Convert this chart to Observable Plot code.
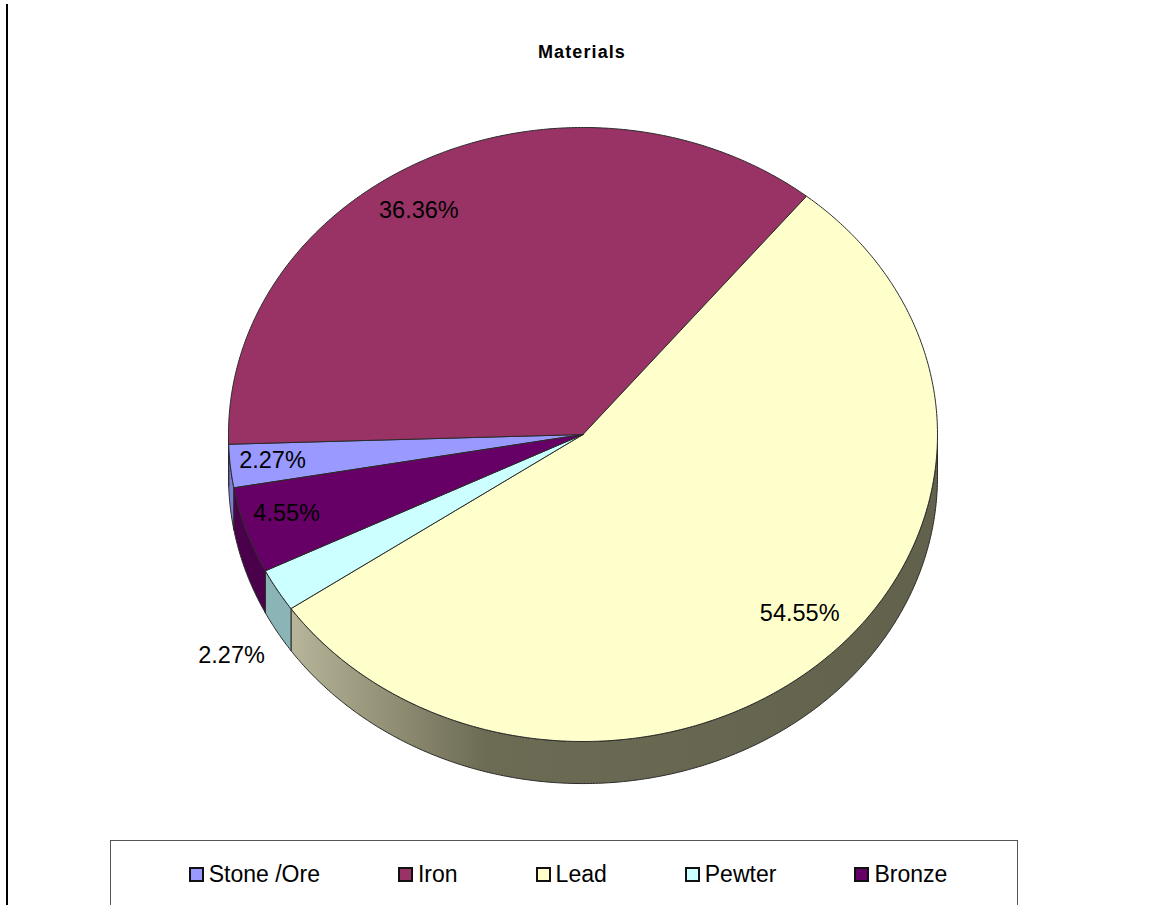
<!DOCTYPE html>
<html>
<head>
<meta charset="utf-8">
<script src="https://cdn.jsdelivr.net/npm/d3@7"></script>
<script src="https://cdn.jsdelivr.net/npm/@observablehq/plot@0.6"></script>
<style>
  html, body { margin: 0; padding: 0; background: #fff; }
  #wrap { position: relative; width: 1156px; height: 905px; overflow: hidden; font-family: "Liberation Sans", Arial, sans-serif; }
  #wrap svg { position: absolute; left: 0; top: 0; }
  #vline { position: absolute; left: 6px; top: 4px; width: 2px; height: 905px; background: #000; }
  #title { position: absolute; left: 0; top: 42px; width: 1164px; text-align: center; font-weight: bold; font-size: 18px; letter-spacing: 1.1px; color: #000; }
  #legend { position: absolute; left: 110px; top: 840px; width: 908px; height: 90px; border: 1.5px solid #555; border-bottom: none; box-sizing: border-box; display: flex; justify-content: center; gap: 78px; padding-top: 20px; padding-left: 8px; }
  .item { display: flex; align-items: center; font-size: 23px; height: 26px; color: #000; }
  .sw { width: 11px; height: 11px; border: 2px solid #111; margin-right: 5px; }
</style>
</head>
<body>
<div id="wrap">
  <div id="vline"></div>
  <div id="title">Materials</div>
  <div id="legend"></div>
</div>
<script>
// ---- data ----
const categories = ["Stone /Ore", "Iron", "Lead", "Pewter", "Bronze"];
const counts = [1, 16, 24, 1, 2];
const percentLabels = ["2.27%", "36.36%", "54.55%", "2.27%", "4.55%"];
// ---- styles / label layout ----
const topColors = ["#9999FF", "#993366", "#FFFFCC", "#CCFFFF", "#660066"];
const sideColors = ["#7d7dd6", "#7a2850", "url(#leadSide)", "#8ab4b5", "#4b004b"];
const labelRadius = [0.88, 0.865, 0.845, 1.15, 0.875];
const labelAngleShift = [0.4, -6, -3.6, 0, 1];

const startAngle = 260;   // degrees clockwise from 12 o'clock
const depth = 0.137;      // wall thickness in y units
const total = d3.sum(counts);

let acc = startAngle;
const slices = categories.map((c, i) => {
  const a0 = acc, a1 = acc + counts[i] / total * 360;
  acc = a1;
  return {c, i, a0, a1};
});

const rad = d => d * Math.PI / 180;
const pt = (deg, r = 1, dz = 0) => ({x: r * Math.sin(rad(deg)), y: -r * Math.cos(rad(deg)) + dz});
function arc(a0, a1, dz = 0) {
  const n = Math.max(2, Math.ceil((a1 - a0) / 0.5));
  return d3.range(n + 1).map(k => pt(a0 + (a1 - a0) * k / n, 1, dz));
}

const wallMarks = [];
const topMarks = [];
slices.forEach(s => {
  for (const sh of [-360, 0, 360]) {
    const lo = Math.max(s.a0, 90 + sh), hi = Math.min(s.a1, 270 + sh);
    if (hi > lo) {
      const top = arc(lo, hi, 0);
      const bot = arc(lo, hi, depth).reverse();
      const poly = [...top, ...bot, top[0]];
      wallMarks.push(Plot.line(poly, {x: "x", y: "y", fill: sideColors[s.i], stroke: "#2b2b2b", strokeWidth: 1, strokeLinejoin: "round"}));
    }
  }
  const poly = [pt(0, 0), ...arc(s.a0, s.a1), pt(0, 0)];
  topMarks.push(Plot.line(poly, {x: "x", y: "y", fill: topColors[s.i], stroke: "#2b2b2b", strokeWidth: 1, strokeLinejoin: "round"}));
});

const labelData = slices.map(s => {
  const m = (s.a0 + s.a1) / 2 + labelAngleShift[s.i], r = labelRadius[s.i];
  const p = pt(m, r, r > 1 ? depth : 0);
  return {x: p.x, y: p.y, text: percentLabels[s.i]};
});

const svg = Plot.plot({
  width: 1156,
  height: 905,
  margin: 0,
  style: {background: "transparent"},
  x: {domain: [-1, 1], range: [228, 937], axis: null},
  y: {domain: [-1, 1], range: [127, 741], axis: null},
  marks: [
    ...wallMarks,
    ...topMarks,
    Plot.text(labelData, {x: "x", y: "y", text: "text", fontSize: 23.5, fontFamily: "Liberation Sans, Arial, sans-serif", fill: "#000"})
  ]
});

// gradient for the lead wall shading
const ns = "http://www.w3.org/2000/svg";
const defs = document.createElementNS(ns, "defs");
const lg = document.createElementNS(ns, "linearGradient");
lg.setAttribute("id", "leadSide");
lg.setAttribute("x1", "0"); lg.setAttribute("x2", "1"); lg.setAttribute("y1", "0"); lg.setAttribute("y2", "0");
[["0", "#b8b69a"], ["0.12", "#9a987c"], ["0.3", "#6c6b54"], ["1", "#62614c"]].forEach(([o, c]) => {
  const st = document.createElementNS(ns, "stop");
  st.setAttribute("offset", o); st.setAttribute("stop-color", c);
  lg.appendChild(st);
});
defs.appendChild(lg);
svg.insertBefore(defs, svg.firstChild);

document.getElementById("wrap").insertBefore(svg, document.getElementById("vline"));

// legend
const legend = document.getElementById("legend");
categories.forEach((c, i) => {
  const it = document.createElement("div");
  it.className = "item";
  const sw = document.createElement("span");
  sw.className = "sw";
  sw.style.background = topColors[i];
  it.appendChild(sw);
  it.appendChild(document.createTextNode(c));
  legend.appendChild(it);
});
</script>
</body>
</html>
